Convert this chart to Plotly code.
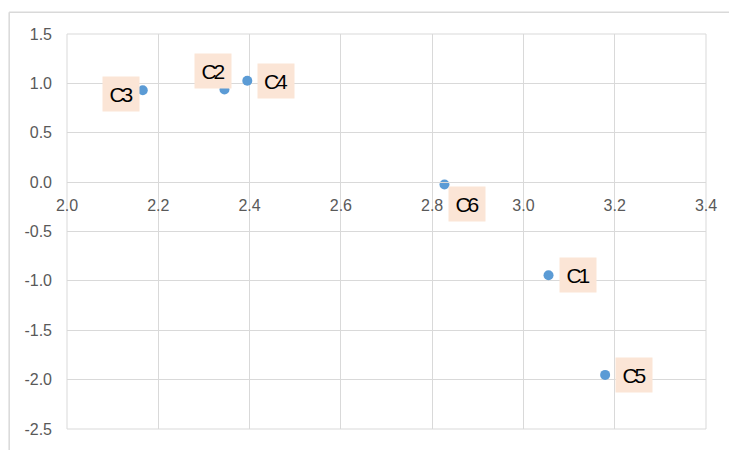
import plotly.graph_objects as go

# Cluster coordinates
labels = ["C1", "C2", "C3", "C4", "C5", "C6"]
x_vals = [3.055, 2.345, 2.166, 2.395, 3.179, 2.827]
y_vals = [-0.943, 0.938, 0.931, 1.026, -1.952, -0.024]

# label offsets (pixels) relative to each point: (dx, dy up)
label_offsets = {
    "C1": (29, 0),
    "C2": (-11, 19),
    "C3": (-22, -4),
    "C4": (29, 0),
    "C5": (29, 0),
    "C6": (23, -19),
}

x_ticks = [2.0, 2.2, 2.4, 2.6, 2.8, 3.0, 3.2, 3.4]
y_ticks = [-2.5, -2.0, -1.5, -1.0, -0.5, 0.0, 0.5, 1.0, 1.5]

W, H = 729, 450
L, R, T, B = 67, 21, 34, 17
grid = "#D9D9D9"
tick_font = dict(family="Liberation Sans, Arial, sans-serif", size=16, color="#595959")

fig = go.Figure()
fig.add_trace(go.Scatter(
    x=x_vals, y=y_vals, mode="markers",
    marker=dict(size=10, color="#5B9BD5", line=dict(width=0)),
    hoverinfo="skip", showlegend=False,
))

for lab, xv, yv in zip(labels, x_vals, y_vals):
    dx, dy = label_offsets[lab]
    fig.add_annotation(
        x=xv, y=yv, xref="x", yref="y",
        text=f'<span style="letter-spacing:-3px">{lab}</span>',
        showarrow=False, xshift=dx, yshift=dy,
        font=dict(family="Liberation Sans, Arial, sans-serif", size=21, color="#000000"),
        bgcolor="#FBE5D6", borderpad=4, width=28, height=26,
    )

ymin, ymax = y_ticks[0], y_ticks[-1]
zero_pos = (0 - ymin) / (ymax - ymin)

fig.update_layout(
    width=W, height=H,
    margin=dict(l=L, r=R, t=T, b=B, pad=0),
    paper_bgcolor="white", plot_bgcolor="white",
    xaxis=dict(
        range=[x_ticks[0], x_ticks[-1]], tickvals=x_ticks,
        ticktext=[f"{v:.1f}" for v in x_ticks],
        showgrid=True, gridcolor=grid, gridwidth=1,
        zeroline=False, showline=True, linecolor=grid, linewidth=1,
        anchor="free", position=zero_pos,
        ticks="", tickfont=tick_font, ticklabelstandoff=9,
    ),
    yaxis=dict(
        range=[ymin, ymax], tickvals=y_ticks,
        ticktext=[f"{v:.1f}" for v in y_ticks],
        showgrid=True, gridcolor=grid, gridwidth=1,
        zeroline=False, showline=False,
        ticks="", tickfont=tick_font, ticklabelstandoff=14,
    ),
)

# plot-area frame
fig.add_shape(type="rect", xref="paper", yref="paper", x0=0, y0=0, x1=1, y1=1,
              line=dict(color=grid, width=1), layer="below")

# outer chart-area border (top and left edges)
pw, ph = W - L - R, H - T - B
px = lambda p: (p - L) / pw
py = lambda p: (H - B - p) / ph
fig.add_shape(type="line", xref="paper", yref="paper",
              x0=px(9), x1=px(W + 5), y0=py(12), y1=py(12),
              line=dict(color=grid, width=1.5))
fig.add_shape(type="line", xref="paper", yref="paper",
              x0=px(9), x1=px(9), y0=py(12), y1=py(H + 5),
              line=dict(color=grid, width=1.5))

fig.write_html("out.html")
